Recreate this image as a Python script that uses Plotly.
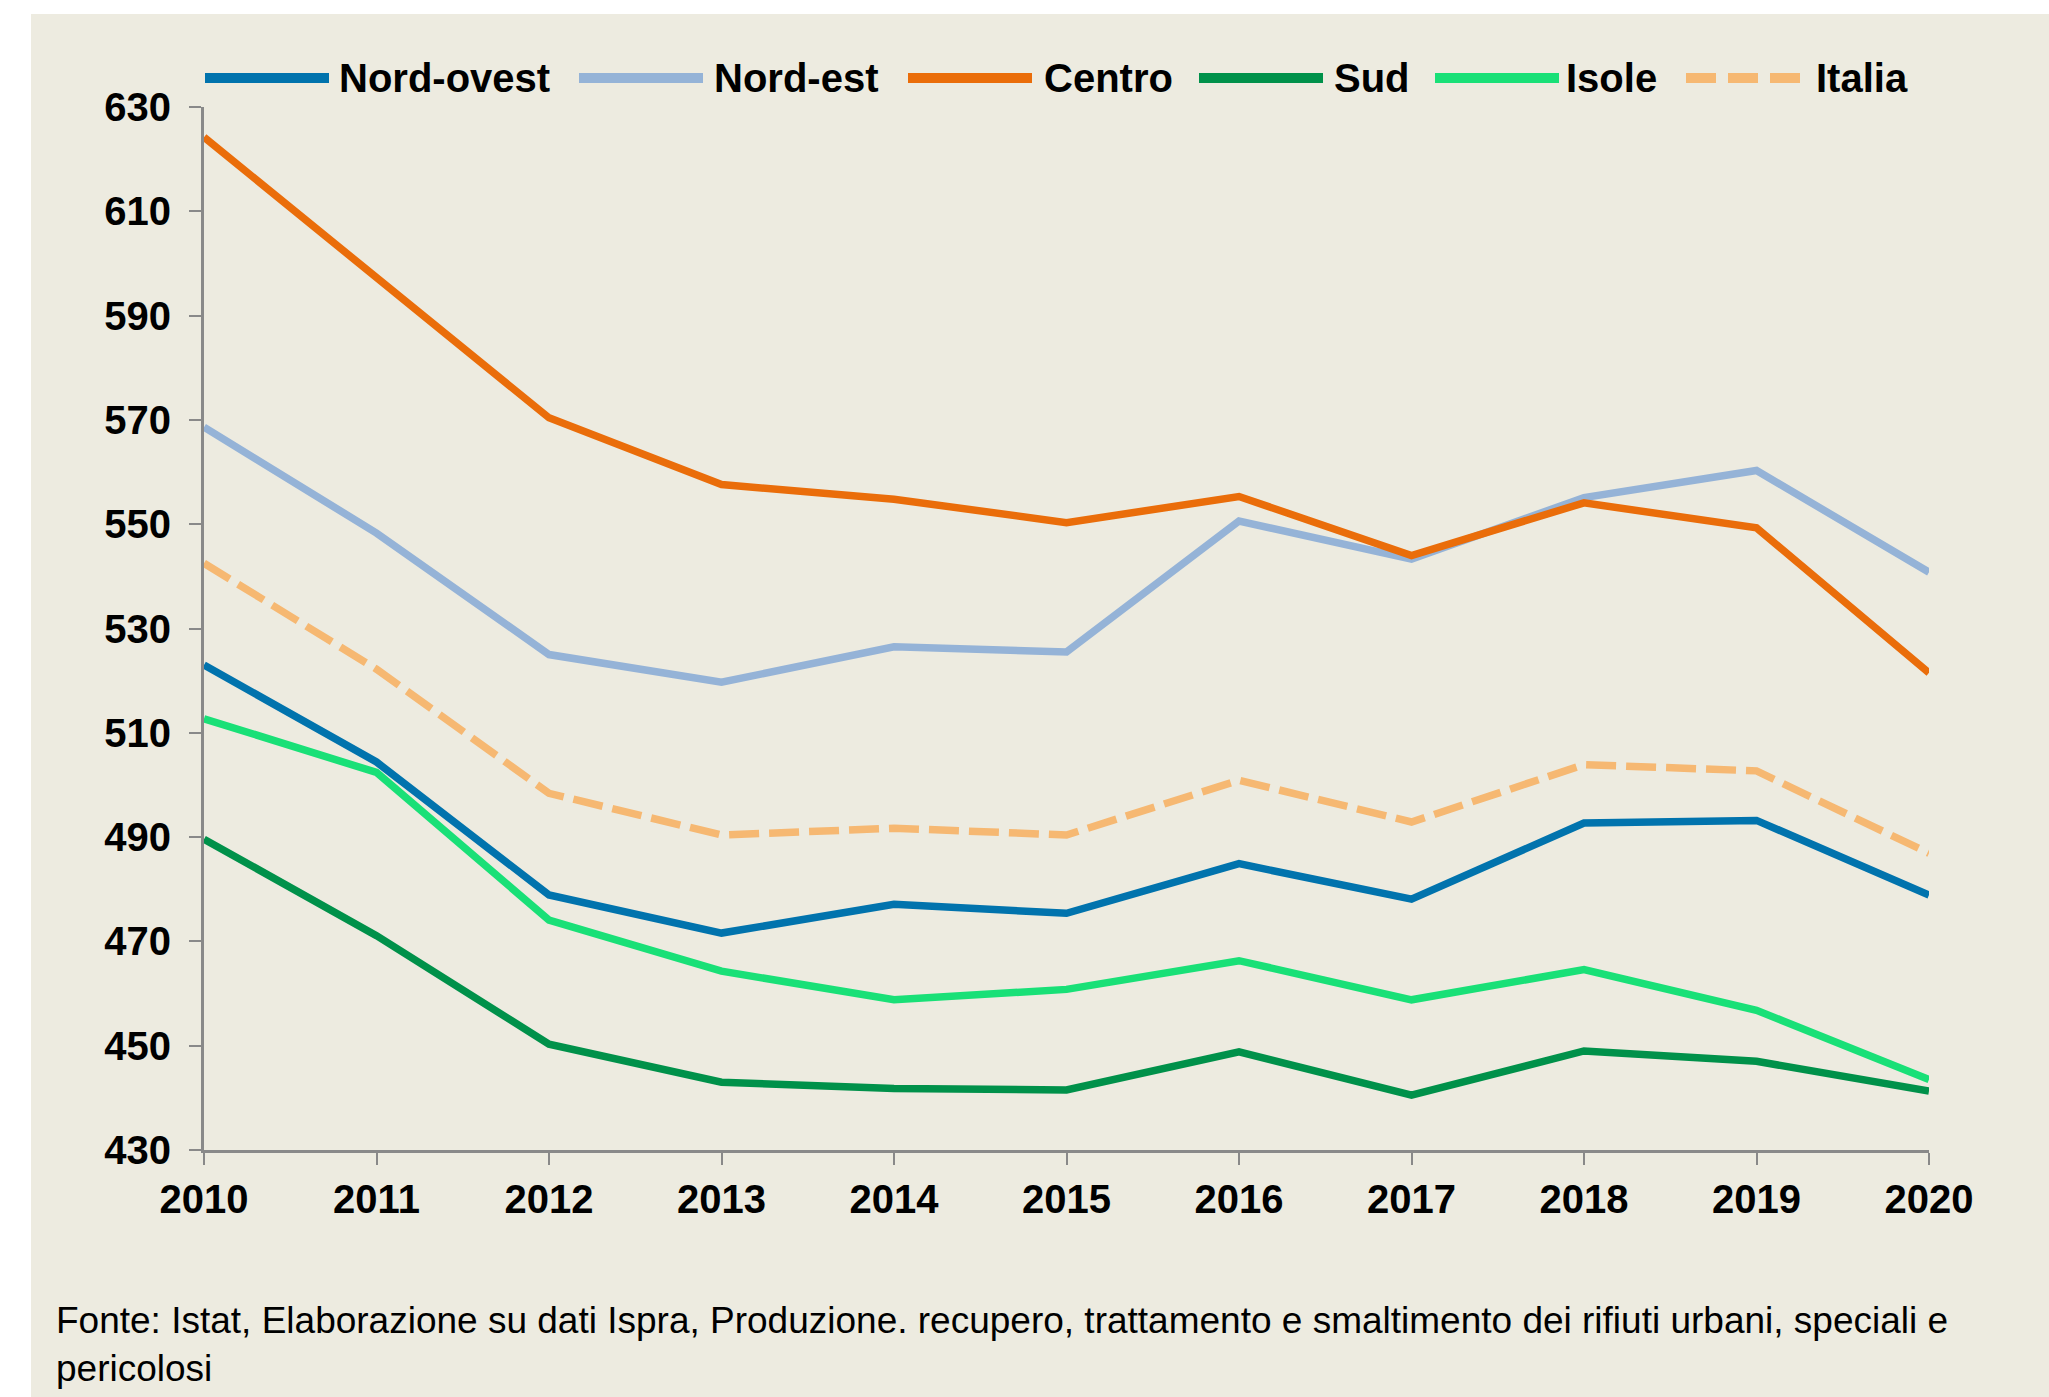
import plotly.graph_objects as go

years = [2010, 2011, 2012, 2013, 2014, 2015, 2016, 2017, 2018, 2019, 2020]

nord_ovest = [523.0, 504.4, 478.9, 471.6, 477.1, 475.4, 484.9, 478.1, 492.7, 493.2, 478.9]
nord_est = [568.6, 548.3, 525.0, 519.7, 526.5, 525.5, 550.6, 543.3, 555.1, 560.3, 540.8]
centro = [624.2, 597.2, 570.4, 557.6, 554.8, 550.3, 555.3, 544.0, 554.1, 549.3, 521.5]
sud = [489.6, 471.1, 450.3, 443.0, 441.8, 441.5, 448.8, 440.5, 449.0, 447.0, 441.3]
isole = [512.7, 502.4, 474.1, 464.3, 458.8, 460.8, 466.3, 458.8, 464.6, 456.8, 443.5]
italia = [542.5, 522.2, 498.4, 490.4, 491.7, 490.4, 500.9, 492.9, 503.9, 502.7, 486.9]

series_names = ["Nord-ovest", "Nord-est", "Centro", "Sud", "Isole", "Italia"]
series_values = [nord_ovest, nord_est, centro, sud, isole, italia]
series_colors = ["#0173AD", "#95B3D7", "#EA6D0A", "#00914A", "#19E077", "#F6B872"]
series_dash = ["solid", "solid", "solid", "solid", "solid", "30px,10px"]

y_ticks = [430, 450, 470, 490, 510, 530, 550, 570, 590, 610, 630]

source_text = ("Fonte: Istat, Elaborazione su dati Ispra, Produzione. recupero, trattamento e "
               "smaltimento dei rifiuti urbani, speciali e<br>pericolosi")

W, H = 2049, 1397
L, R, T, B = 204, 2049 - 1929, 107, 1397 - 1150
PW, PH = W - L - R, H - T - B


def px(x):
    return (x - L) / PW


def py(y):
    return (H - B - y) / PH


BG = "#EDEBE0"
FONT = "Liberation Sans, Arial, sans-serif"

fig = go.Figure()
for name, vals, col, dash in zip(series_names, series_values, series_colors, series_dash):
    fig.add_trace(go.Scatter(
        x=years, y=vals, mode="lines", name=name,
        line=dict(color=col, width=7.5, dash=dash),
        showlegend=False, hoverinfo="x+y+name",
    ))

shapes = []
annotations = []
# white border strips (outside the beige panel)
shapes.append(dict(type="rect", xref="paper", yref="paper", x0=px(0), x1=px(W), y0=py(0), y1=py(14),
                   fillcolor="white", line=dict(width=0), layer="below"))
shapes.append(dict(type="rect", xref="paper", yref="paper", x0=px(0), x1=px(31), y0=py(0), y1=py(H),
                   fillcolor="white", line=dict(width=0), layer="below"))

# custom legend
leg_line = [(205, 329), (579, 703), (908, 1032), (1199, 1323), (1435, 1559), (1686, 1801)]
leg_text = [337, 712, 1042, 1332, 1564, 1814]
leg_y = 78
for (x0, x1), tx, name, col, dash in zip(leg_line, leg_text, series_names, series_colors, series_dash):
    shapes.append(dict(type="line", xref="paper", yref="paper", x0=px(x0), x1=px(x1),
                       y0=py(leg_y), y1=py(leg_y),
                       line=dict(color=col, width=10, dash=dash if dash == "solid" else "30px,12px")))
    annotations.append(dict(xref="paper", yref="paper", x=px(tx), y=py(leg_y), text="<b>%s</b>" % name,
                            showarrow=False, xanchor="left", yanchor="middle",
                            font=dict(family=FONT, size=40, color="black")))

annotations.append(dict(xref="paper", yref="paper", x=px(54), y=py(1298), text=source_text,
                        showarrow=False, xanchor="left", yanchor="top", align="left",
                        font=dict(family=FONT, size=37, color="black")))

fig.update_layout(
    width=W, height=H, autosize=False,
    margin=dict(l=L, r=R, t=T, b=B, pad=0),
    paper_bgcolor=BG, plot_bgcolor=BG,
    shapes=shapes, annotations=annotations,
    xaxis=dict(range=[2010, 2020], tickmode="array", tickvals=years,
               ticktext=["<b>%d</b>" % y for y in years],
               showgrid=False, zeroline=False, showline=True, linecolor="#898989", linewidth=3,
               ticks="outside", ticklen=12, tickwidth=2, tickcolor="#898989",
               tickfont=dict(family=FONT, size=40, color="black"), ticklabelstandoff=0),
    yaxis=dict(range=[430, 630], tickmode="array", tickvals=y_ticks,
               ticktext=["<b>%d</b>" % v for v in y_ticks],
               showgrid=False, zeroline=False, showline=True, linecolor="#898989", linewidth=3,
               ticks="outside", ticklen=12, tickwidth=2, tickcolor="#898989",
               tickfont=dict(family=FONT, size=40, color="black"), ticklabelstandoff=10),
    font=dict(family=FONT),
)

fig.write_html("out.html", config={"displayModeBar": False},
               post_script="document.body.style.margin='0';")
